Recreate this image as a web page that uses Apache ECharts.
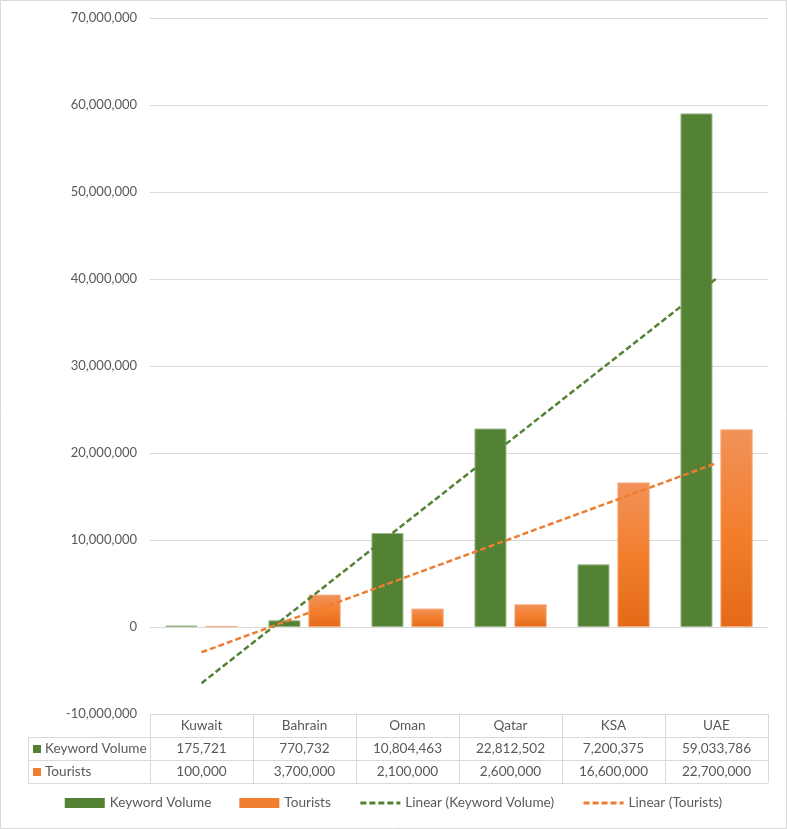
<!DOCTYPE html>
<html><head><meta charset="utf-8">
<script src="https://cdn.jsdelivr.net/npm/echarts@6/dist/echarts.min.js"></script>
<style>html,body{margin:0;padding:0;background:#fff}#c{width:787px;height:829px}</style>
</head><body><div id="c"></div>
<script>
var categories = ['Kuwait','Bahrain','Oman','Qatar','KSA','UAE'];
var keywordVolume = [175721, 770732, 10804463, 22812502, 7200375, 59033786];
var tourists = [100000, 3700000, 2100000, 2600000, 16600000, 22700000];
var seriesNames = ['Keyword Volume','Tourists','Linear (Keyword Volume)','Linear (Tourists)'];
var yTicks = {min: -10000000, max: 70000000, interval: 10000000};

var GREEN = '#548235', ORANGE = '#ED7D31', TXT = '#595959', GRID = '#D9D9D9';
var FONT = 'Lato';

function fmt(v){ return Math.round(v).toString().replace(/\B(?=(\d{3})+(?!\d))/g, ','); }
// Excel-style least-squares linear trendline over category index 1..n
function trend(vals){
  var n = vals.length, sx=0, sy=0, sxy=0, sxx=0;
  for (var i=0;i<n;i++){ var x=i+1; sx+=x; sy+=vals[i]; sxy+=x*vals[i]; sxx+=x*x; }
  var b=(n*sxy-sx*sy)/(n*sxx-sx*sx), a=(sy-b*sx)/n;
  return vals.map(function(_,i){ return a+b*(i+1); });
}

var chart = echarts.init(document.getElementById('c'), null, {renderer:'canvas'});
var orangeGrad = {type:'linear',x:0,y:0,x2:0,y2:1,colorStops:[{offset:0,color:'#F19259'},{offset:0.5,color:'#F37F2E'},{offset:1,color:'#E46A17'}]};
var noSym = {color:'rgba(0,0,0,0)',borderWidth:0,borderColor:'rgba(0,0,0,0)'};

chart.setOption({
  animation:false,
  textStyle:{fontFamily:FONT},
  grid:{left:150,right:19,top:18,bottom:115,containLabel:false},
  legend:{
    bottom:14, left:'center', itemWidth:40, itemHeight:10, itemGap:28,
    textStyle:{color:TXT,fontSize:13.6,fontFamily:FONT},
    data:[{name:seriesNames[0],icon:'rect',itemStyle:{borderWidth:0}},
          {name:seriesNames[1],icon:'rect',itemStyle:{borderWidth:0,color:'#F07F30'}},
          {name:seriesNames[2],itemStyle:noSym,lineStyle:{width:3,type:[6,3]}},
          {name:seriesNames[3],itemStyle:noSym,lineStyle:{width:3,type:[6,3]}}]
  },
  xAxis:{
    type:'category', data:categories, position:'bottom',
    axisLine:{show:false,onZero:false}, axisTick:{show:false},
    axisLabel:{
      margin:0, interval:0, color:TXT, fontSize:13.6, fontFamily:FONT, lineHeight:23, verticalAlign:'top',
      formatter:function(v, i){ return v + '\n' + fmt(keywordVolume[i]) + '\n' + fmt(tourists[i]); }
    }
  },
  yAxis:{
    type:'value', min:yTicks.min, max:yTicks.max, interval:yTicks.interval,
    axisLine:{show:false}, axisTick:{show:false},
    axisLabel:{color:TXT,fontSize:13,fontFamily:FONT,margin:13,formatter:fmt},
    splitLine:{lineStyle:{color:GRID,width:1}}
  },
  series:[
    {name:seriesNames[0],type:'bar',data:keywordVolume,barGap:'25%',barCategoryGap:'30%',
     itemStyle:{color:GREEN,borderColor:'#9DB98B',borderWidth:1}},
    {name:seriesNames[1],type:'bar',data:tourists,
     itemStyle:{color:orangeGrad,borderColor:'#F6B48A',borderWidth:0.6}},
    {name:seriesNames[2],type:'line',data:trend(keywordVolume),symbol:'none',z:5,
     itemStyle:{color:GREEN},lineStyle:{color:GREEN,width:2.5,type:[6,3]}},
    {name:seriesNames[3],type:'line',data:trend(tourists),symbol:'none',z:5,
     itemStyle:{color:ORANGE},lineStyle:{color:ORANGE,width:2.5,type:[6,3]}}
  ]
});

// data-table borders and row headers, positioned via the axes
(function(){
  var c0 = chart.convertToPixel({xAxisIndex:0}, 0), c1 = chart.convertToPixel({xAxisIndex:0}, 1);
  var bw = c1 - c0;
  var left = c0 - bw/2, right = left + bw*categories.length;
  var top = chart.convertToPixel({yAxisIndex:0}, yTicks.min);
  var rh = 23, outerLeft = 28;
  var els = [];
  var ls = {stroke:GRID,lineWidth:1};
  function hl(x1,x2,y){ els.push({type:'line',shape:{x1:x1,y1:Math.round(y)+0.5,x2:x2,y2:Math.round(y)+0.5},style:ls,silent:true}); }
  function vl(x,y1,y2){ els.push({type:'line',shape:{x1:Math.round(x)+0.5,y1:y1,x2:Math.round(x)+0.5,y2:y2},style:ls,silent:true}); }
  hl(outerLeft, right, top+rh); hl(outerLeft, right, top+2*rh); hl(outerLeft, right, top+3*rh);
  for (var k=0;k<=categories.length;k++) vl(left+k*bw, top, top+3*rh);
  vl(outerLeft, top+rh, top+3*rh);
  var rows = [[seriesNames[0],GREEN],[seriesNames[1],ORANGE]];
  rows.forEach(function(r, i){
    var cy = top + rh*(i+1) + rh/2;
    els.push({type:'rect',shape:{x:outerLeft+5,y:Math.round(cy)-4,width:8,height:8},style:{fill:r[1]},silent:true});
    els.push({type:'text',x:outerLeft+17,y:cy,style:{text:r[0],fill:TXT,font:'13.6px '+FONT,verticalAlign:'middle'},silent:true});
  });
  els.push({type:'rect',shape:{x:0.5,y:0.5,width:786,height:828},style:{fill:'none',stroke:GRID,lineWidth:1},silent:true});
  chart.setOption({graphic:els});
})();
</script></body></html>
